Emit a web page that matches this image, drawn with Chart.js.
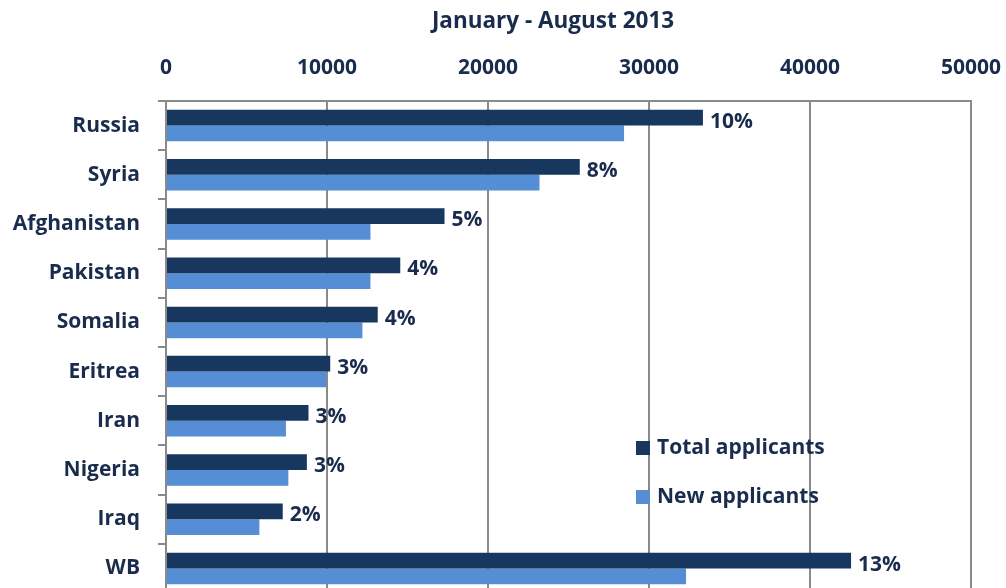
<!DOCTYPE html>
<html lang="en">
<head>
    <meta charset="UTF-8">
    <title>Asylum applicants January - August 2013</title>
    <script src="https://cdn.jsdelivr.net/npm/chart.js"></script>
    <style>
        html, body { margin: 0; padding: 0; overflow: hidden; background: #fff; }
        canvas { display: block; }
    </style>
</head>
<body>

    <canvas id="asylumChart" width="1006" height="600"></canvas>

    <script>
        // values
        const countries = ['Russia', 'Syria', 'Afghanistan', 'Pakistan', 'Somalia', 'Eritrea', 'Iran', 'Nigeria', 'Iraq', 'WB'];
        const totalApplicants = [33350, 25700, 17300, 14550, 13150, 10200, 8850, 8750, 7250, 42550];
        const newApplicants = [28450, 23200, 12700, 12700, 12200, 9950, 7450, 7600, 5800, 32300];
        const shareLabels = ['10%', '8%', '5%', '4%', '4%', '3%', '3%', '3%', '2%', '13%'];
        const xTicks = [0, 10000, 20000, 30000, 40000, 50000];

        const textColor = '#1a2c4e';
        const gridColor = '#8a8a8a';
        const font = 'bold 21px "Open Sans"';

        // percentages next to the dark bars
        const shareLabelPlugin = {
            id: 'shareLabels',
            afterDatasetsDraw(chart) {
                const ctx = chart.ctx;
                const meta = chart.getDatasetMeta(0);
                ctx.save();
                ctx.font = font;
                ctx.fillStyle = textColor;
                ctx.textAlign = 'left';
                ctx.textBaseline = 'middle';
                meta.data.forEach((bar, i) => {
                    ctx.fillText(shareLabels[i], bar.x + 7, bar.y + 4);
                });
                ctx.restore();
            }
        };

        // title and legend inside the plot
        const extrasPlugin = {
            id: 'extras',
            afterDraw(chart) {
                const ctx = chart.ctx;
                const area = chart.chartArea;
                ctx.save();
                ctx.font = 'bold 22.5px "Open Sans"';
                ctx.fillStyle = textColor;
                ctx.textAlign = 'center';
                ctx.textBaseline = 'middle';
                ctx.fillText('January - August 2013', 553, 22);

                ctx.font = font;
                ctx.textAlign = 'left';
                chart.data.datasets.forEach((ds, i) => {
                    const lx = area.left + 470;
                    const ly = area.top + 347 + i * 49;
                    ctx.fillStyle = ds.backgroundColor;
                    ctx.fillRect(lx, ly - 7, 14, 14);
                    ctx.fillStyle = textColor;
                    ctx.fillText(ds.label, lx + 21, ly);
                });
                ctx.restore();
            }
        };

        const ctx = document.getElementById('asylumChart').getContext('2d');
        new Chart(ctx, {
            type: 'bar',
            data: {
                labels: countries,
                datasets: [{
                    label: 'Total applicants',
                    data: totalApplicants,
                    backgroundColor: '#17375e',
                    borderWidth: 0,
                    categoryPercentage: 0.64,
                    barPercentage: 1.0
                }, {
                    label: 'New applicants',
                    data: newApplicants,
                    backgroundColor: '#558ed5',
                    borderWidth: 0,
                    categoryPercentage: 0.64,
                    barPercentage: 1.0
                }]
            },
            options: {
                indexAxis: 'y',
                responsive: false,
                animation: false,
                layout: { padding: { top: 41, right: 35, bottom: 7, left: 0 } },
                plugins: {
                    legend: { display: false },
                    tooltip: { enabled: false }
                },
                scales: {
                    x: {
                        position: 'top',
                        min: 0,
                        max: 50000,
                        afterBuildTicks(scale) {
                            scale.ticks = xTicks.map(v => ({ value: v }));
                        },
                        afterFit(scale) {
                            scale.height = 60;
                            scale.paddingLeft = 0;
                            scale.paddingRight = 0;
                        },
                        ticks: {
                            color: textColor,
                            font: { family: 'Open Sans', size: 21, weight: 'bold' },
                            padding: 20,
                            maxRotation: 0,
                            callback: v => String(v)
                        },
                        grid: { color: gridColor, lineWidth: 2, drawTicks: false },
                        border: { display: true, color: gridColor, width: 2 }
                    },
                    y: {
                        afterFit(scale) {
                            scale.width = 166;
                            scale.paddingTop = 0;
                            scale.paddingBottom = 0;
                        },
                        ticks: {
                            color: textColor,
                            font: { family: 'Open Sans', size: 21, weight: 'bold' },
                            padding: 18
                        },
                        grid: {
                            offset: true,
                            drawOnChartArea: false,
                            drawTicks: true,
                            tickLength: 8,
                            color: gridColor,
                            lineWidth: 2
                        },
                        border: { display: true, color: gridColor, width: 2 }
                    }
                }
            },
            plugins: [shareLabelPlugin, extrasPlugin]
        });
    </script>
</body>
</html>
